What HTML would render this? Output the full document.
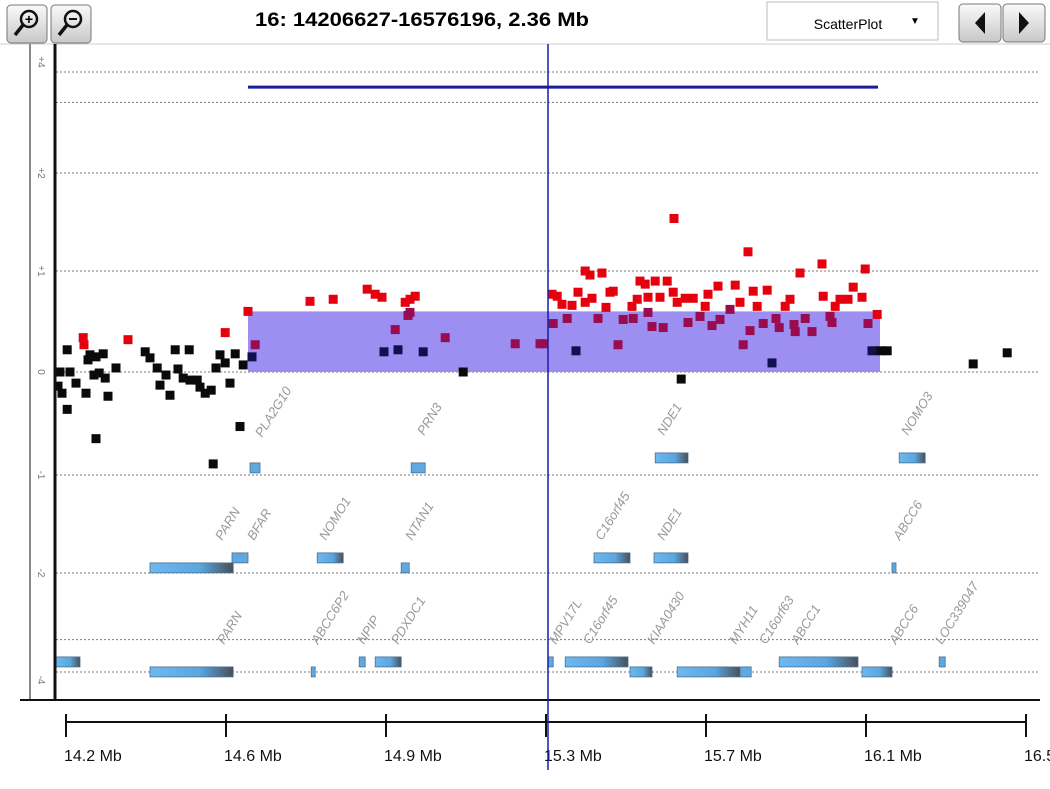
<!DOCTYPE html>
<html><head><meta charset="utf-8"><style>
body{margin:0;background:#fff;width:1050px;height:789px;overflow:hidden;font-family:"Liberation Sans",sans-serif}
svg{display:block}
</style></head><body>
<svg id="chart" width="1050" height="789" viewBox="0 0 1050 789">
<defs>
<linearGradient id="gg" x1="0" x2="1" y1="0" y2="0"><stop offset="0" stop-color="#6cb9f0"/><stop offset="0.6" stop-color="#5aa6df"/><stop offset="1" stop-color="#4a4f57"/></linearGradient>
<linearGradient id="btn" x1="0" x2="0" y1="0" y2="1"><stop offset="0" stop-color="#fafafa"/><stop offset="1" stop-color="#c8c8c8"/></linearGradient>
</defs>
<g><rect x="7" y="5" width="40" height="38" rx="4" fill="url(#btn)" stroke="#777"/><circle cx="29" cy="19" r="8" fill="none" stroke="#111" stroke-width="2.5"/><line x1="23" y1="25" x2="15" y2="35" stroke="#111" stroke-width="3.5"/><text x="29" y="24" font-size="14" font-weight="bold" text-anchor="middle">+</text></g>
<g><rect x="51" y="5" width="40" height="38" rx="4" fill="url(#btn)" stroke="#777"/><circle cx="73" cy="19" r="8" fill="none" stroke="#111" stroke-width="2.5"/><line x1="67" y1="25" x2="59" y2="35" stroke="#111" stroke-width="3.5"/><line x1="69" y1="19" x2="77" y2="19" stroke="#111" stroke-width="2"/></g>
<text x="422" y="26" font-size="19" font-weight="bold" text-anchor="middle" textLength="334" lengthAdjust="spacingAndGlyphs">16: 14206627-16576196, 2.36 Mb</text>
<g><rect x="767" y="2" width="171" height="38" fill="#fff" stroke="#bbb"/><text x="848" y="29" font-size="14" text-anchor="middle">ScatterPlot</text><text x="910" y="24" font-size="10">▼</text></g>
<g><rect x="959" y="4" width="42" height="38" rx="4" fill="url(#btn)" stroke="#777"/><polygon points="985,12 985,34 975,23" fill="#111"/></g>
<g><rect x="1003" y="4" width="42" height="38" rx="4" fill="url(#btn)" stroke="#777"/><polygon points="1019,12 1019,34 1029,23" fill="#111"/></g>
<line x1="0" y1="44" x2="1050" y2="44" stroke="#ccc"/>
<g id="grid"></g>
<rect id="segment" fill="#9d8ef2"/>
<line id="segline" stroke="#1c1c9c" stroke-width="3"/>
<g id="genes"></g>
<g id="pts"></g>
<line x1="30" y1="44" x2="30" y2="700" stroke="#888" stroke-width="2"/>
<line x1="55" y1="44" x2="55" y2="700" stroke="#111" stroke-width="3"/>
<line x1="20" y1="700" x2="1040" y2="700" stroke="#111" stroke-width="2"/>
<g id="ylabels"></g>
<g id="xaxis"></g>
<line id="cursor" x1="548" y1="44" x2="548" y2="770" stroke="#1a1aa8" stroke-width="1.5"/>
<g font-size="13" fill="#999" font-style="italic">
<text transform="translate(262,438) rotate(-58)">PLA2G10</text>
<text transform="translate(424,436) rotate(-58)">PRN3</text>
<text transform="translate(664,436) rotate(-58)">NDE1</text>
<text transform="translate(908,436) rotate(-58)">NOMO3</text>
<text transform="translate(222,541) rotate(-58)">PARN</text>
<text transform="translate(254,541) rotate(-58)">BFAR</text>
<text transform="translate(326,541) rotate(-58)">NOMO1</text>
<text transform="translate(412,541) rotate(-58)">NTAN1</text>
<text transform="translate(602,541) rotate(-58)">C16orf45</text>
<text transform="translate(664,541) rotate(-58)">NDE1</text>
<text transform="translate(900,541) rotate(-58)">ABCC6</text>
<text transform="translate(224,645) rotate(-58)">PARN</text>
<text transform="translate(318,645) rotate(-58)">ABCC6P2</text>
<text transform="translate(364,645) rotate(-58)">NPIP</text>
<text transform="translate(398,645) rotate(-58)">PDXDC1</text>
<text transform="translate(556,645) rotate(-58)">MPV17L</text>
<text transform="translate(590,645) rotate(-58)">C16orf45</text>
<text transform="translate(654,645) rotate(-58)">KIAA0430</text>
<text transform="translate(736,645) rotate(-58)">MYH11</text>
<text transform="translate(766,645) rotate(-58)">C16orf63</text>
<text transform="translate(798,645) rotate(-58)">ABCC1</text>
<text transform="translate(896,645) rotate(-58)">ABCC6</text>
<text transform="translate(942,645) rotate(-58)">LOC339047</text>
</g>
</svg>
<script>
const tickVals=[14.2,14.6,15.0,15.4,15.8,16.2,16.6];
const tickLabels=["14.2 Mb","14.6 Mb","14.9 Mb","15.3 Mb","15.7 Mb","16.1 Mb","16.5"];
const gridVals=[2.97,2.67,1.97,1.0,0,-1.02,-1.99,-2.65,-2.97];
const yLabVals=[3.07,1.97,1.0,0,-1.02,-1.99,-3.05];
const yLabText=["+4","+2","+1","0","-1","-2","-4"];
const segStart=14.655, segEnd=16.235, segMean=0.6, segLineVal=2.82, segLineStart=14.655, segLineEnd=16.23;
const blackX=[14.185,14.18,14.19,14.203,14.21,14.225,14.25,14.283,14.27,14.255,14.26,14.275,14.293,14.298,14.305,14.325,14.203,14.398,14.41,14.428,14.435,14.45,14.46,14.473,14.48,14.493,14.508,14.51,14.528,14.535,14.548,14.563,14.575,14.585,14.598,14.61,14.623,14.643,14.275,14.635,14.568,15.193,15.738,16.235,16.253,16.468,16.553];
const blackY=[0,-.14,-.21,-.37,0,-.11,-.21,-.01,-.03,.12,.17,.15,.18,-.06,-.24,.04,.22,.2,.14,.04,-.13,-.03,-.23,.22,.03,-.06,.22,-.08,-.08,-.15,-.21,-.18,.04,.17,.09,-.11,.18,.07,-.66,-.54,-.91,0,-.07,.21,.21,.08,.19];
const redX=[14.243,14.245,14.355,14.598,14.655,14.81,14.868,14.953,14.973,14.99,15.048,15.06,15.073,15.415,15.428,15.44,15.465,15.48,15.498,15.51,15.498,15.515,15.54,15.55,15.56,15.568,15.615,15.635,15.648,15.628,15.655,15.673,15.685,15.703,15.718,15.728,15.72,15.748,15.768,15.798,15.805,15.83,15.873,15.885,15.905,15.918,15.928,15.953,15.998,16.01,16.035,16.09,16.093,16.123,16.135,16.155,16.168,16.19,16.198,16.228];
const redY=[.34,.27,.32,.39,.6,.7,.72,.82,.77,.74,.69,.72,.75,.77,.75,.67,.66,.79,1.0,.96,.69,.73,.98,.64,.79,.8,.65,.9,.87,.72,.74,.9,.74,.9,.79,.69,1.52,.73,.73,.65,.77,.85,.86,.69,1.19,.8,.65,.81,.65,.72,.98,1.07,.75,.65,.72,.72,.84,.74,1.02,.57];
const magX=[14.673,15.023,15.055,15.06,15.148,15.323,15.385,15.393,15.418,15.453,15.53,15.58,15.593,15.618,15.655,15.665,15.693,15.755,15.785,15.815,15.835,15.86,15.893,15.91,15.943,15.975,15.983,16.02,16.023,16.048,16.065,16.11,16.115,16.205];
const magY=[.27,.42,.56,.59,.34,.28,.28,.28,.48,.53,.53,.27,.52,.53,.59,.45,.44,.49,.55,.46,.52,.62,.27,.41,.48,.53,.44,.47,.4,.53,.4,.55,.49,.48];
const navyX=[14.665,14.995,15.03,15.093,15.475,15.965,16.215];
const navyY=[.15,.2,.22,.2,.21,.09,.21];
const geneStart=[14.66,15.063,15.673,16.283,14.41,14.615,14.828,15.038,15.52,15.67,16.265,14.175,14.41,14.813,14.933,14.973,15.405,15.448,15.61,15.728,15.885,15.983,16.19,16.383];
const geneEnd=[14.685,15.098,15.755,16.348,14.618,14.655,14.893,15.058,15.61,15.755,16.275,14.235,14.618,14.823,14.948,15.038,15.418,15.605,15.665,15.885,15.913,16.18,16.265,16.398];
const geneRow=[0,0,0,0,1,1,1,1,1,1,1,2,2,2,2,2,2,2,2,2,2,2,2,2];
const geneStrand=[-1,-1,1,1,-1,1,1,-1,1,1,-1,1,-1,-1,1,1,1,1,-1,-1,-1,1,-1,1];
const rowVals=[-0.9,-1.89,-2.92];

const NS="http://www.w3.org/2000/svg";
const X=v=>66+(v-14.2)*400;
const Y=v=>372-v*101;
function mk(tag,attrs,parent){const e=document.createElementNS(NS,tag);for(const k in attrs)e.setAttribute(k,attrs[k]);parent.appendChild(e);return e;}
const grid=document.getElementById('grid');
gridVals.forEach(v=>{const l=mk('line',{x1:56,x2:1040,y1:Y(v),y2:Y(v),stroke:'#777','stroke-dasharray':'2,2'},grid);

});
const yl=document.getElementById('ylabels');
yLabVals.forEach((v,i)=>{const t=mk('text',{transform:`translate(38,${Y(v)}) rotate(90)`,'font-size':10,fill:'#777','text-anchor':'middle'},yl);t.textContent=yLabText[i];

});
const seg=document.getElementById('segment');
seg.setAttribute('x',X(segStart));seg.setAttribute('width',X(segEnd)-X(segStart));seg.setAttribute('y',Y(segMean));seg.setAttribute('height',Y(0)-Y(segMean));
const sl=document.getElementById('segline');
sl.setAttribute('x1',X(segLineStart));sl.setAttribute('x2',X(segLineEnd));sl.setAttribute('y1',Y(segLineVal));sl.setAttribute('y2',Y(segLineVal));
const gg=document.getElementById('genes');
geneStart.forEach((s,i)=>{const base=Y(rowVals[geneRow[i]]);const y=geneStrand[i]>0?base-10:base;
const w=Math.max(3,X(geneEnd[i])-X(s));
const r=mk('rect',{x:X(s),y:y,width:w,height:10,fill:w>20?'url(#gg)':'#5fa9e0',stroke:'#4d6f8f','stroke-width':0.8},gg);

});
const pts=document.getElementById('pts');
function series(xs,ys,col,name){xs.forEach((x,i)=>{const r=mk('rect',{x:X(x)-4.5,y:Y(ys[i])-4.5,width:9,height:9,fill:col},pts);

});}
series(blackX,blackY,'#0a0a0a','probe-point-normal');
series(redX,redY,'#e6000e','probe-point-gain');
series(magX,magY,'#9a0c50','probe-point-gain-in-segment');
series(navyX,navyY,'#101050','probe-point-segment');
const xa=document.getElementById('xaxis');
mk('line',{x1:X(tickVals[0]),x2:X(tickVals[tickVals.length-1]),y1:722,y2:722,stroke:'#111','stroke-width':2},xa);
tickVals.forEach((v,i)=>{const l=mk('line',{x1:X(v),x2:X(v),y1:714,y2:737,stroke:'#111','stroke-width':2},xa);


const t=mk('text',{x:X(v)-2,y:761,'font-size':16,fill:'#111'},xa);t.textContent=tickLabels[i];

});
</script>
</body></html>
